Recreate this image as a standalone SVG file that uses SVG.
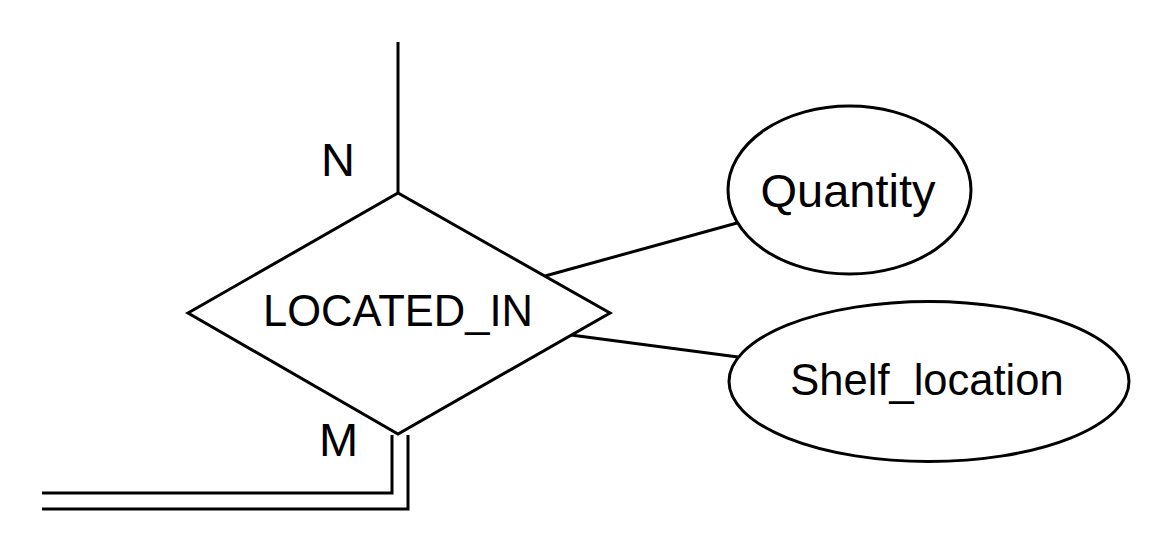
<svg xmlns="http://www.w3.org/2000/svg" width="1172" height="552" viewBox="0 0 1172 552">
<style>
.s{fill:#fff;stroke:#000;stroke-width:3}
.l{fill:none;stroke:#000;stroke-width:3}
text{font-family:"Liberation Sans",Arial,sans-serif;fill:#000;text-anchor:middle}
</style>
<rect width="1172" height="552" fill="#fff"/>
<g id="connectors">
<line class="l" x1="398" y1="42" x2="398" y2="193"/>
<line class="l" x1="545" y1="276" x2="737" y2="223"/>
<line class="l" x1="571" y1="335" x2="738" y2="357"/>
<polyline class="l" points="392,435 392,493 42,493"/>
<polyline class="l" points="408,435 408,509 42,509"/>
<text x="338" y="175.5" font-size="47">N</text>
<text x="338.5" y="455.5" font-size="47">M</text>
</g>
<g id="located_in">
<polygon class="s" points="188,313 398,193 610,313 398,434"/>
<text x="398" y="326" font-size="43.5">LOCATED_IN</text>
</g>
<g id="quantity">
<ellipse class="s" cx="849.5" cy="190" rx="121.5" ry="84"/>
<text x="848" y="207" font-size="47">Quantity</text>
</g>
<g id="shelf_location">
<ellipse class="s" cx="929" cy="381.5" rx="200" ry="80"/>
<text x="927" y="395" font-size="43.5">Shelf_location</text>
</g>
</svg>
